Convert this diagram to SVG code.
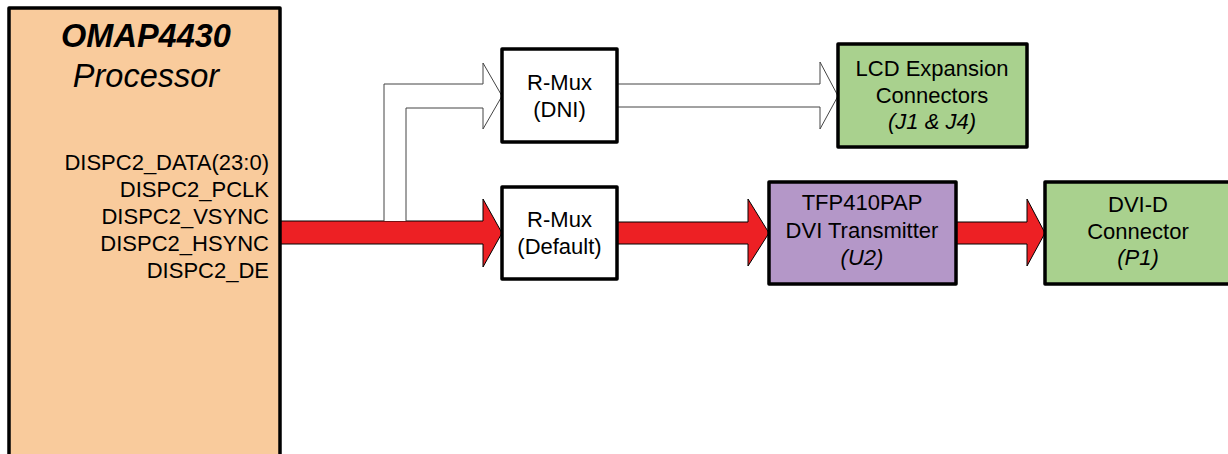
<svg xmlns="http://www.w3.org/2000/svg" width="1228" height="454" viewBox="0 0 1228 454">
<style>
.box{stroke:#000;stroke-width:3.5;stroke-linejoin:round}
.t{font-family:"Liberation Sans",Arial,sans-serif;font-size:22px;fill:#000}
.c{text-anchor:middle}
.i{font-style:italic}
.red{fill:#ED2024;stroke:#000;stroke-width:1}
.wht{fill:#fff;stroke:#444;stroke-width:1}
</style>
<rect width="1228" height="454" fill="#fff"/>
<g id="connectors">
<polygon class="red" points="280,221 483,221 483,199 502,233 483,267 483,244 280,244"/>
<polyline class="wht" points="384,221 384,84 483,84 483,63 502,96 483,129 483,108 406,108 406,221"/>
<polygon class="wht" points="617,84 820,84 820,62 838,96 820,129 820,107 617,107"/>
<polygon class="red" points="617,222 748,222 748,199 769,233 748,266 748,244 617,244"/>
<polygon class="red" points="956,222 1027,222 1027,199 1045,233 1027,266 1027,244 956,244"/>
</g>
<g id="processor">
<rect class="box" x="9" y="8" width="271" height="460" fill="#F9CB9C"/>
<text class="t c i" x="146" y="47" style="font-size:32.5px;font-weight:bold">OMAP4430</text>
<text class="t c i" x="146" y="87" style="font-size:32.5px">Processor</text>
<text class="t" x="269" y="170" text-anchor="end">DISPC2_DATA(23:0)</text>
<text class="t" x="269" y="197" text-anchor="end">DISPC2_PCLK</text>
<text class="t" x="269" y="224" text-anchor="end">DISPC2_VSYNC</text>
<text class="t" x="269" y="251" text-anchor="end">DISPC2_HSYNC</text>
<text class="t" x="269" y="278" text-anchor="end">DISPC2_DE</text>
</g>
<g id="rmux-dni">
<rect class="box" x="502" y="49" width="115" height="93" fill="#fff"/>
<text class="t c" x="559.5" y="90">R-Mux</text>
<text class="t c" x="559.5" y="117">(DNI)</text>
</g>
<g id="rmux-default">
<rect class="box" x="502" y="187" width="115" height="92" fill="#fff"/>
<text class="t c" x="559.5" y="227">R-Mux</text>
<text class="t c" x="559.5" y="254">(Default)</text>
</g>
<g id="lcd">
<rect class="box" x="838" y="44" width="189" height="103" fill="#A9D18E"/>
<text class="t c" x="932" y="76">LCD Expansion</text>
<text class="t c" x="932" y="103">Connectors</text>
<text class="t c i" x="932" y="129">(J1 &amp; J4)</text>
</g>
<g id="tfp410">
<rect class="box" x="769" y="182" width="187" height="102" fill="#B497C8"/>
<text class="t c" x="862" y="210">TFP410PAP</text>
<text class="t c" x="862" y="238">DVI Transmitter</text>
<text class="t c i" x="862" y="265">(U2)</text>
</g>
<g id="dvi">
<rect class="box" x="1045" y="182" width="200" height="102" fill="#A9D18E"/>
<text class="t c" x="1138" y="212">DVI-D</text>
<text class="t c" x="1138" y="239">Connector</text>
<text class="t c i" x="1138" y="265">(P1)</text>
</g>
</svg>
